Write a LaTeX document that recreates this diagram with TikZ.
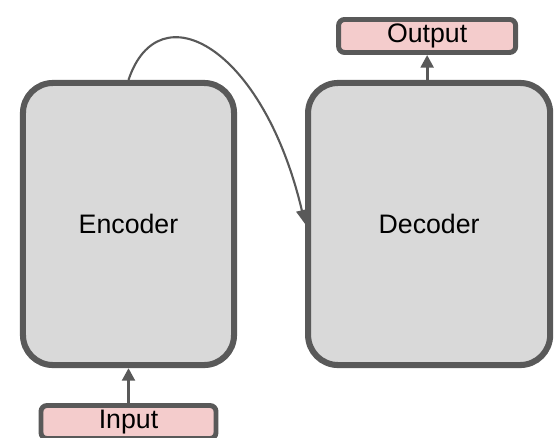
\documentclass[tikz,border=0pt]{standalone}
\usepackage{fontspec}
\setmainfont{Liberation Sans}
\usetikzlibrary{arrows.meta, positioning}
\definecolor{edgegray}{RGB}{89,89,89}
\definecolor{blockgray}{RGB}{217,217,217}
\definecolor{tokenpink}{RGB}{244,204,204}

\begin{document}
\begin{tikzpicture}[
    x=0.025cm, y=0.025cm,
    node distance=1.7cm,
    block/.style={draw=edgegray, line width=4.3pt, rounded corners=0.75cm, fill=blockgray, minimum width=5.275cm, minimum height=7.05cm, font=\fontsize{19}{22}\selectfont},
    token/.style={draw=edgegray, line width=3.5pt, rounded corners=0.15cm, fill=tokenpink, minimum height=0.825cm, inner sep=0pt, font=\fontsize{19}{22}\selectfont},
    arrow/.style={-{Triangle[length=9pt, width=9pt]}, line width=2.2pt, edgegray},
    link/.style={-{Triangle[length=10pt, width=8pt]}, line width=1.5pt, edgegray},
]
    \useasboundingbox (0,0) rectangle (558,437);

    \node[block] (enc) at (128.5,213) {Encoder};
    \node[block, right=of enc, minimum width=6.05cm] (dec) {Decoder};

    \node[token, above=0.625cm of dec, minimum width=4.425cm, xshift=-0.05cm] (out) {Output};
    \node[token, below=0.875cm of enc, minimum width=4.375cm] (in) {Input};

    \draw[arrow] (in) -- (enc);
    \draw[arrow] (dec.north -| out) -- (out);
    \draw[link] (enc.north) .. controls +(30,90) and +(-42,178) .. (dec.west);
\end{tikzpicture}
\end{document}
